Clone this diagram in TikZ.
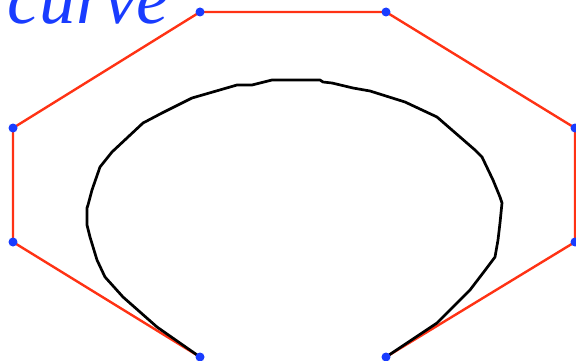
\documentclass[tikz,border=0pt]{standalone}
\usepackage{fontspec}
\setmainfont{Liberation Serif}
\definecolor{ptblue}{RGB}{25,60,255}
\definecolor{polyred}{RGB}{255,50,20}
\begin{document}
\begin{tikzpicture}[x=1pt,y=-1pt,
  poly/.style={draw=polyred,line width=2.4pt,line join=round},
  crv/.style={draw=black,line width=2.7pt,line join=round,line cap=round},
  dot/.style={fill=ptblue},
  lbl/.style={text=ptblue,font=\fontsize{73}{73}\selectfont\itshape,inner sep=0pt}]
\useasboundingbox (0,0) rectangle (576,361);
\coordinate (p0) at (200,357);
\coordinate (p1) at (13,242);
\coordinate (p2) at (13,128);
\coordinate (p3) at (200,12);
\coordinate (p4) at (386,12);
\coordinate (p5) at (575,128);
\coordinate (p6) at (575,242);
\coordinate (p7) at (386,357);
\draw[poly] (p0) -- (p1) -- (p2) -- (p3) -- (p4) -- (p5) -- (p6) -- (p7);
\draw[crv] (p0) -- (157,327) -- (123,297) -- (105,277) -- (97,260) -- (90,237) -- (87,225) -- (87,208) -- (88,205) -- (92,190)
  -- (100,167) -- (112,152) -- (143,123) -- (162,113) -- (192,98) -- (237,85) -- (252,85) -- (272,80) -- (320,80)
  -- (323,82) -- (332,83) -- (353,88) -- (370,91) -- (405,102) -- (437,117) -- (475,150) -- (482,157) -- (493,180)
  -- (500,197) -- (502,203) -- (500,223) -- (498,240) -- (495,257) -- (483,273) -- (470,290) -- (437,323) -- (p7);
\foreach \i in {0,...,7} \fill[dot] (p\i) circle (4.5);
\node[lbl,anchor=base west] (title) at (7,24) {curve};
\end{tikzpicture}
\end{document}
